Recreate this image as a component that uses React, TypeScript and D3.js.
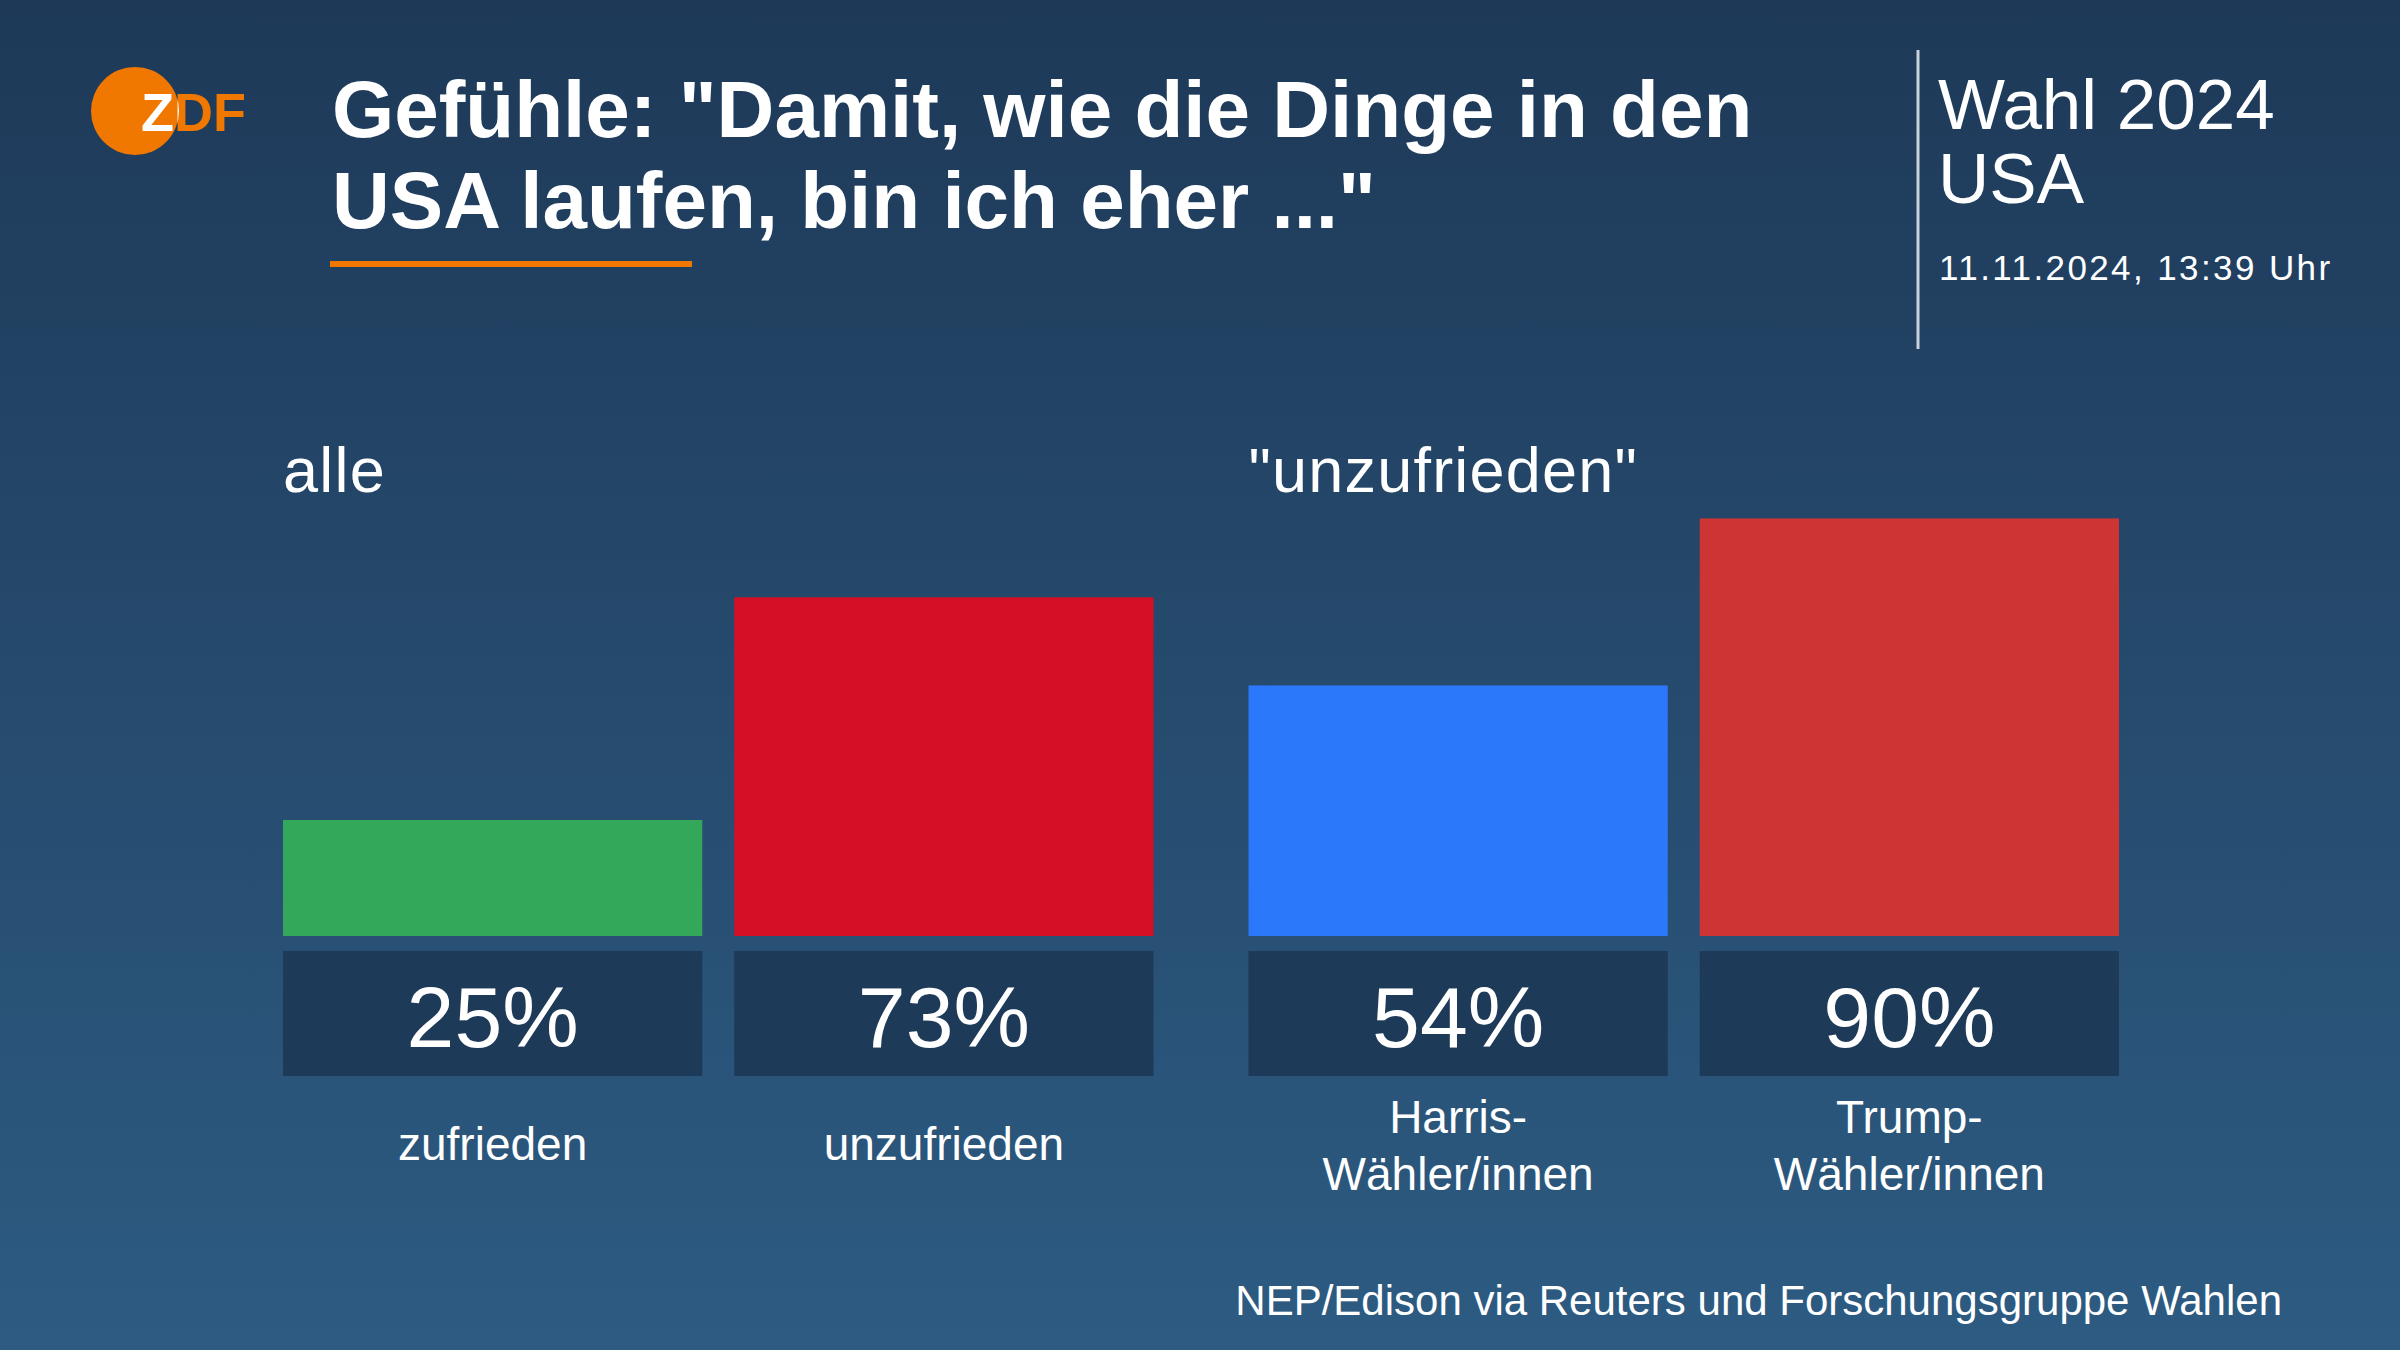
import React from "react";
import * as d3 from "d3";

const W = 2400;
const H = 1350;

const titleLines = ['Gefühle: "Damit, wie die Dinge in den', 'USA laufen, bin ich eher ..."'];
const sideTitle = ["Wahl 2024", "USA"];
const dateText = "11.11.2024, 13:39 Uhr";
const sourceText = "NEP/Edison via Reuters und Forschungsgruppe Wahlen";

const groups = ["alle", '"unzufrieden"'];
const groupOf = [0, 0, 1, 1];
const categories = [["zufrieden"], ["unzufrieden"], ["Harris-", "Wähler/innen"], ["Trump-", "Wähler/innen"]];
const values = [25, 73, 54, 90];
const colors = ["#33a85a", "#d40f26", "#2b78fb", "#cd3434"];

const FONT = "'Liberation Sans', Arial, sans-serif";

export default function App() {
  const outer = d3.scaleBand<number>().domain([0, 1]).range([283, 2119]).paddingInner(0.0984);
  const inner = d3.scaleBand<number>().domain([0, 1]).range([0, outer.bandwidth()]).paddingInner(0.0709);
  const y = d3.scaleLinear().domain([0, 100]).range([936, 472]);
  const xOf = (i: number) => (outer(groupOf[i]) as number) + (inner(i % 2) as number);
  const bw = inner.bandwidth();

  return (
    <svg width={W} height={H} style={{ position: "absolute", left: 0, top: 0, display: "block" }} fontFamily={FONT}>
      <defs>
        <linearGradient id="bg" x1="0" y1="0" x2="0" y2="1">
          <stop offset="0" stopColor="#1e3958" />
          <stop offset="1" stopColor="#2d5b82" />
        </linearGradient>
        <clipPath id="logoClip">
          <circle cx={135} cy={111} r={44} />
        </clipPath>
      </defs>
      <rect x={0} y={0} width={W} height={H} fill="url(#bg)" />

      {/* Logo */}
      <circle cx={135} cy={111} r={44} fill="#f07800" />
      <text x={141} y={131} fontSize={54} fontWeight="bold" fill="#f07800">ZDF</text>
      <text x={141} y={131} fontSize={54} fontWeight="bold" fill="#ffffff" clipPath="url(#logoClip)">ZDF</text>

      {/* Title */}
      <text x={332} fontSize={80} fontWeight="bold" fill="#ffffff">
        {titleLines.map((l, i) => (
          <tspan key={i} x={332} y={137 + i * 91}>{l}</tspan>
        ))}
      </text>
      <rect x={330} y={261} width={362} height={6} fill="#f07800" />

      {/* Side header */}
      <line x1={1918} x2={1918} y1={50} y2={349} stroke="#c8d2dc" strokeWidth={3} />
      {sideTitle.map((t, i) => (
        <text key={i} x={1938} y={129 + i * 74} fontSize={71} fill="#ffffff">{t}</text>
      ))}
      <text x={1939} y={280} fontSize={35} letterSpacing={2.4} fill="#ffffff">{dateText}</text>

      {/* Group labels */}
      {groups.map((g, gi) => (
        <text key={g} x={outer(gi) as number} y={492} fontSize={63} letterSpacing={1.2} fill="#ffffff">{g}</text>
      ))}

      {/* Bars */}
      {values.map((v, i) => (
        <g key={i}>
          <rect x={xOf(i)} y={y(v)} width={bw} height={y(0) - y(v)} fill={colors[i]} />
          <rect x={xOf(i)} y={951} width={bw} height={125} fill="#1e3a59" />
          <text x={xOf(i) + bw / 2} y={1047} fontSize={86} textAnchor="middle" fill="#ffffff">{`${v}%`}</text>
          {categories[i].map((line, li) => (
            <text
              key={li}
              x={xOf(i) + bw / 2}
              y={categories[i].length === 1 ? 1160 : 1133 + li * 57}
              fontSize={46}
              textAnchor="middle"
              fill="#ffffff"
            >
              {line}
            </text>
          ))}
        </g>
      ))}

      {/* Source */}
      <text x={2282} y={1315} fontSize={42} textAnchor="end" fill="#ffffff">{sourceText}</text>
    </svg>
  );
}
